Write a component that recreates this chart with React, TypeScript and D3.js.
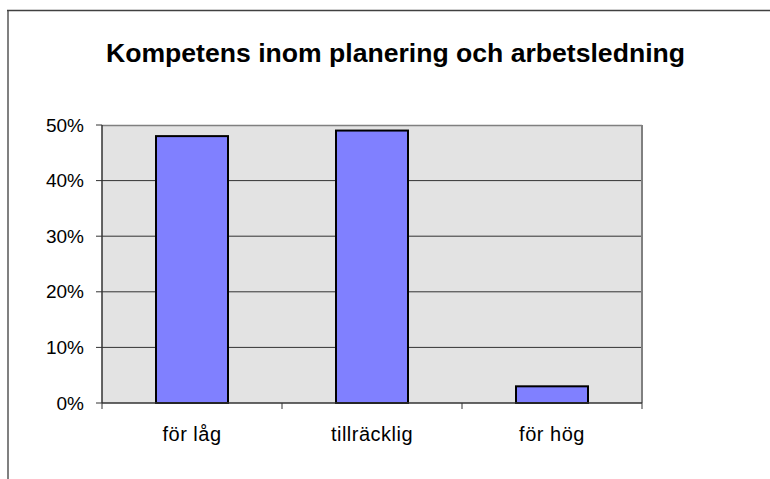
import React from "react";
import * as d3 from "d3";

const categories = ["för låg", "tillräcklig", "för hög"];
const values = [0.48, 0.49, 0.03];
const yTicks = [0, 0.1, 0.2, 0.3, 0.4, 0.5];
const title = "Kompetens inom planering och arbetsledning";

export default function App() {
  const W = 770, H = 479;
  const left = 102, right = 642, top = 125, bottom = 403;
  const x = d3.scaleBand<string>().domain(categories).range([left, right]).paddingInner(0).paddingOuter(0);
  const y = d3.scaleLinear().domain([0, 0.5]).range([bottom, top]);
  const barW = x.bandwidth() * 0.4;
  const font = "'Liberation Sans', Arial, sans-serif";
  const catTicks = [...categories.map((c) => x(c)!), right];
  return (
    <svg width={W} height={H} style={{ position: "absolute", left: 0, top: 0, display: "block" }}>
      <rect x={0} y={0} width={W} height={H} fill="#fff" />
      <line x1={8} y1={10} x2={8} y2={H} stroke="#808080" strokeWidth={2} />
      <line x1={7} y1={10.5} x2={W} y2={10.5} stroke="#404040" strokeWidth={1.5} />
      <text x={106} y={62} textLength={579} lengthAdjust="spacingAndGlyphs" fontFamily={font} fontWeight="bold" fontSize={25} fill="#000">
        {title}
      </text>
      <rect x={left} y={top} width={right - left} height={bottom - top} fill="#e3e3e3" />
      {yTicks.slice(1, -1).map((t) => (
        <line key={t} x1={left} x2={right} y1={y(t)} y2={y(t)} stroke="#333" strokeWidth={1} />
      ))}
      <line x1={left} x2={right} y1={top + 0.5} y2={top + 0.5} stroke="#808080" strokeWidth={1.5} />
      <line x1={right} x2={right} y1={top} y2={bottom} stroke="#808080" strokeWidth={2} />
      {categories.map((c, i) => {
        const cx = x(c)! + x.bandwidth() / 2;
        return (
          <rect key={c} x={cx - barW / 2} y={y(values[i])} width={barW} height={bottom - y(values[i])}
            fill="#8080ff" stroke="#000" strokeWidth={2} />
        );
      })}
      <line x1={left} x2={left} y1={top} y2={bottom} stroke="#333" strokeWidth={1.5} />
      <line x1={left} x2={right} y1={bottom} y2={bottom} stroke="#333" strokeWidth={1.5} />
      {yTicks.map((t) => (
        <g key={t}>
          <line x1={left - 6} x2={left} y1={y(t)} y2={y(t)} stroke="#333" strokeWidth={1} />
          <text x={84} y={y(t) + 6.5} textAnchor="end" fontFamily={font} fontSize={19} fill="#000">
            {d3.format(".0%")(t)}
          </text>
        </g>
      ))}
      {catTicks.map((cx, i) => (
        <line key={i} x1={cx} x2={cx} y1={bottom} y2={bottom + 6} stroke="#333" strokeWidth={1} />
      ))}
      {categories.map((c) => (
        <text key={c} x={x(c)! + x.bandwidth() / 2} y={441} textAnchor="middle" fontFamily={font} fontSize={20} letterSpacing={0.5} fill="#000">
          {c}
        </text>
      ))}
    </svg>
  );
}
